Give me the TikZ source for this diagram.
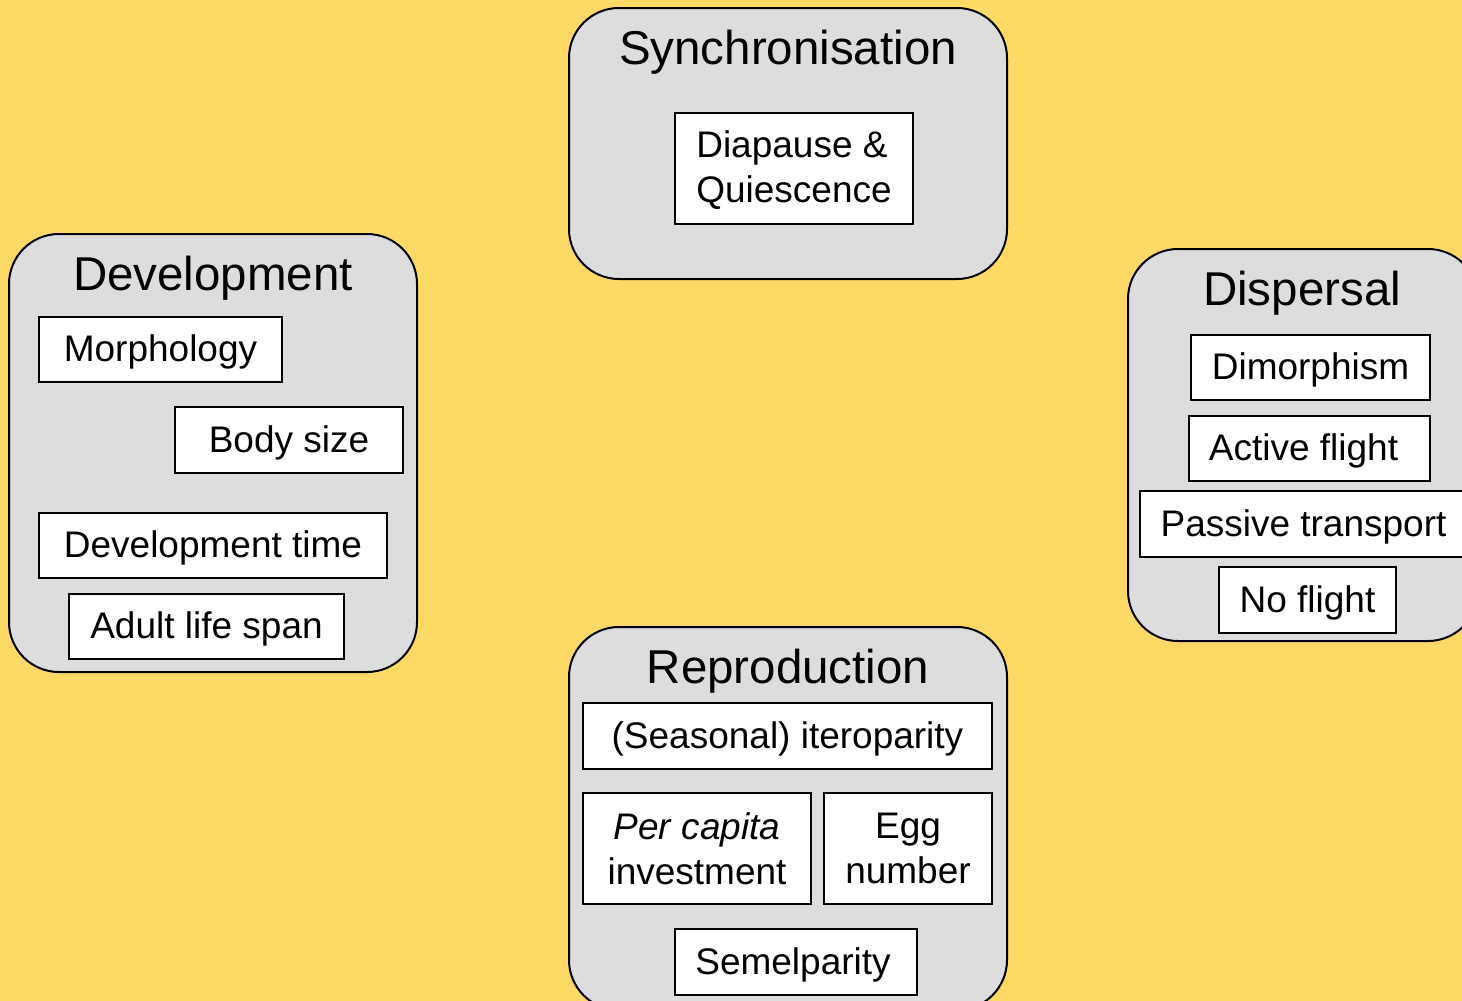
\documentclass[tikz,border=0pt]{standalone}
\usepackage{fontspec}
\setmainfont{Liberation Sans}
\definecolor{bgyellow}{RGB}{255,217,102}
\definecolor{grpgray}{RGB}{221,221,221}
\tikzset{
  grp/.style={draw=black, line width=2pt, fill=grpgray, rounded corners=50pt, inner sep=0pt},
  ttl/.style={anchor=base, inner sep=0pt, font=\fontsize{47.5}{57}\selectfont},
  item/.style={draw=black, line width=2pt, fill=white, inner sep=0pt, text height=24pt, text depth=0pt, font=\fontsize{37}{45}\selectfont},
  item2/.style={draw=black, line width=2pt, fill=white, inner sep=0pt, align=center, font=\fontsize{37}{45}\selectfont}
}
\begin{document}
\begin{tikzpicture}[x=1pt,y=-1pt]
\useasboundingbox (0,0) rectangle (1462,1001);
\clip (0,0) rectangle (1462,1001);
\fill[bgyellow] (0,0) rectangle (1462,1001);
% groups
\node[grp, minimum width=438pt, minimum height=271pt] (sync) at (788,143.5) {};
\node[grp, minimum width=408pt, minimum height=438pt] (dev) at (213,453) {};
\node[grp, minimum width=350pt, minimum height=392pt] (disp) at (1303,445) {};
\node[grp, minimum width=438pt, minimum height=383pt] (repro) at (788,818.5) {};
% titles
\node[ttl] (tsync) at (788,64) {Synchronisation};
\node[ttl] (tdev) at (213,290) {Development};
\node[ttl] (tdisp) at (1302,305.5) {Dispersal};
\node[ttl] (trepro) at (788,683) {Reproduction};
% synchronisation
\node[item2, align=left, minimum width=238pt, minimum height=111pt, text depth=4pt] (diap) at (794,168.5) {Diapause \&\\Quiescence};
% development
\node[item, minimum width=243pt, minimum height=65pt] (morph) at (160.5,349.5) {Morphology};
\node[item, minimum width=228pt, minimum height=66pt] (body) at (289,440) {Body size};
\node[item, minimum width=348pt, minimum height=65pt] (devtime) at (213,545.5) {Development time};
\node[item, minimum width=275pt, minimum height=65pt] (adult) at (206.5,626.5) {Adult life span};
% dispersal
\node[item, minimum width=239pt, minimum height=65pt] (dimor) at (1310.5,367.5) {Dimorphism};
\node[item, minimum width=241pt, minimum height=65pt] (active) at (1309.5,448.5) {Active flight\kern12pt};
\node[item, minimum width=327pt, minimum height=66pt] (passive) at (1303.5,524) {Passive transport};
\node[item, minimum width=177pt, minimum height=66pt] (noflight) at (1307.5,600) {No flight};
% reproduction
\node[item, minimum width=409pt, minimum height=66pt] (itero) at (787.5,736) {(Seasonal) iteroparity};
\node[item2, minimum width=228pt, minimum height=111pt] (percap) at (697,848.5) {\textit{Per capita}\\investment};
\node[item2, minimum width=168pt, minimum height=111pt] (egg) at (908,848.5) {Egg\\number};
\node[item, minimum width=242pt, minimum height=66pt] (semel) at (796,962) {Semelparity\kern6pt};
\end{tikzpicture}
\end{document}
